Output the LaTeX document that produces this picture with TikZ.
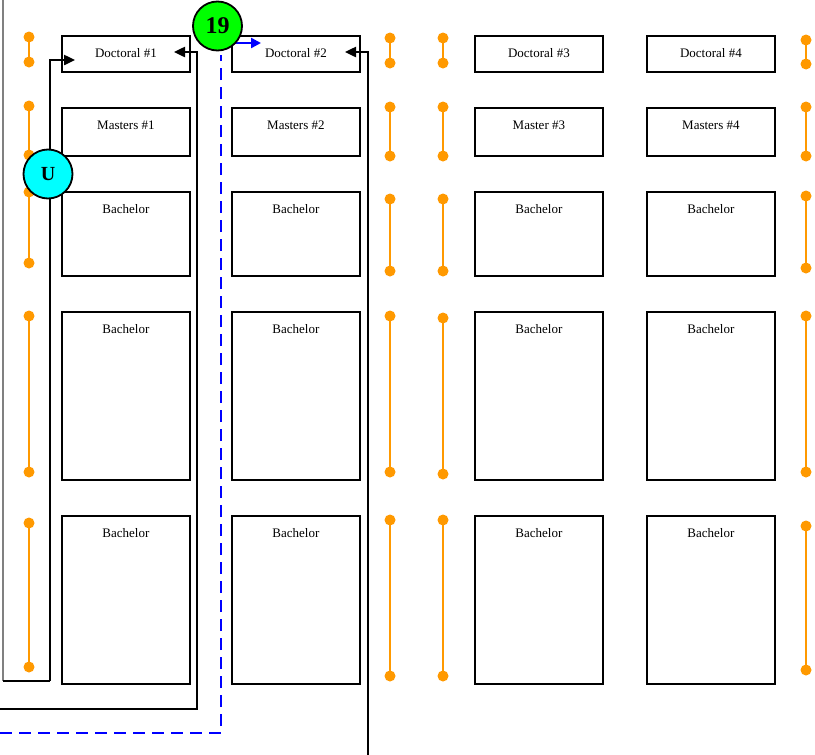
\documentclass[tikz,border=0pt]{standalone}
\usepackage{fontspec}
\setmainfont{Liberation Serif}
\usetikzlibrary{arrows.meta}
\definecolor{dumborange}{RGB}{255,153,0}
\definecolor{pathblue}{RGB}{0,0,255}
\definecolor{pathgray}{RGB}{128,128,128}
\definecolor{markgreen}{RGB}{0,255,0}
\definecolor{markcyan}{RGB}{0,255,255}
\begin{document}
\begin{tikzpicture}[x=1pt,y=-1pt,
  box/.style={draw=black,line width=1.8pt,fill=white,anchor=north west,inner sep=0pt,minimum width=128pt},
  lbl/.style={font=\fontsize{13}{15}\selectfont,inner sep=0pt},
  route/.style={draw=black,line width=2.4pt,-{Triangle[length=11pt,width=10pt]}},
  dumb/.style={draw=dumborange,line width=2.6pt},
  dot/.style={fill=dumborange},
  marker/.style={circle,draw=black,line width=1.8pt,minimum size=49pt,inner sep=0pt,font=\bfseries\fontsize{24}{26}\selectfont}]
\useasboundingbox (0,0) rectangle (815,755);

% boxes
\foreach \c/\x in {1/61,2/231,3/474,4/646}{
  \node[box,minimum height=36pt] (d\c) at (\x,35) {};
  \node[box,minimum height=48pt] (m\c) at (\x,107) {};
  \node[box,minimum height=84pt] (ba\c) at (\x,191) {};
  \node[box,minimum height=168pt] (bb\c) at (\x,311) {};
  \node[box,minimum height=168pt] (bc\c) at (\x,515) {};
}
\node[lbl] at ([yshift=-18pt]d1.north) {Doctoral \#1};
\node[lbl] at ([yshift=-18pt]d2.north) {Doctoral \#2};
\node[lbl] at ([yshift=-18pt]d3.north) {Doctoral \#3};
\node[lbl] at ([yshift=-18pt]d4.north) {Doctoral \#4};
\node[lbl] at ([yshift=-18pt]m1.north) {Masters \#1};
\node[lbl] at ([yshift=-18pt]m2.north) {Masters \#2};
\node[lbl] at ([yshift=-18pt]m3.north) {Master \#3};
\node[lbl] at ([yshift=-18pt]m4.north) {Masters \#4};
\foreach \c in {1,2,3,4}{
  \node[lbl] at ([yshift=-18pt]ba\c.north) {Bachelor};
  \node[lbl] at ([yshift=-18pt]bb\c.north) {Bachelor};
  \node[lbl] at ([yshift=-18pt]bc\c.north) {Bachelor};
}

% orange dumbbells
\foreach \x/\a/\b in {
  29/37/62, 29/106/155, 29/192/263, 29/316/472, 29/523/667,
  390/38/63, 390/107/156, 390/199/271, 390/316/472, 390/520/676,
  443/38/63, 443/107/156, 443/199/271, 443/318/474, 443/520/676,
  806/40/64, 806/107/156, 806/196/268, 806/316/472, 806/526/670}{
  \draw[dumb] (\x,\a) -- (\x,\b);
  \fill[dot] (\x,\a) circle (5.5pt);
  \fill[dot] (\x,\b) circle (5.5pt);
}

% route coordinates
\coordinate (gtop) at (3,0);
\coordinate (gcorner) at (3,681);
\coordinate (ucorner) at (50,681);
\coordinate (utop) at (50,60);
\coordinate (d1in) at (75,60);
\coordinate (r1start) at (0,709);
\coordinate (r1corner) at (197,709);
\coordinate (r1top) at (197,52);
\coordinate (d1tip) at (174,52);
\coordinate (bstart) at (0,733);
\coordinate (bcorner) at (221,733);
\coordinate (btop) at (221,55);
\coordinate (b19) at (233,43);
\coordinate (d2blue) at (261,43);
\coordinate (r2start) at (368,755);
\coordinate (r2top) at (368,52);
\coordinate (d2tip) at (345,52);

% routes
\draw[draw=pathgray,line width=1.8pt] (gtop) -- (gcorner);
\draw[draw=black,line width=1.8pt] (gcorner) -- (ucorner);
\draw[route] (ucorner) -- (utop) -- (d1in);
\draw[route] (r1start) -- (r1corner) -- (r1top) -- (d1tip);
\draw[draw=pathblue,line width=2.4pt,dash pattern=on 12pt off 7pt] (bstart) -- (bcorner) -- (btop);
\draw[draw=pathblue,line width=2.4pt,-{Triangle[length=10pt,width=10pt]}] (b19) -- (d2blue);
\draw[route] (r2start) -- (r2top) -- (d2tip);

% markers
\node[marker,fill=markgreen] (m19) at (217.5,26) {19};
\node[marker,fill=markcyan,font=\bfseries\fontsize{20}{22}\selectfont] (mu) at (48,174) {U};
\end{tikzpicture}
\end{document}
